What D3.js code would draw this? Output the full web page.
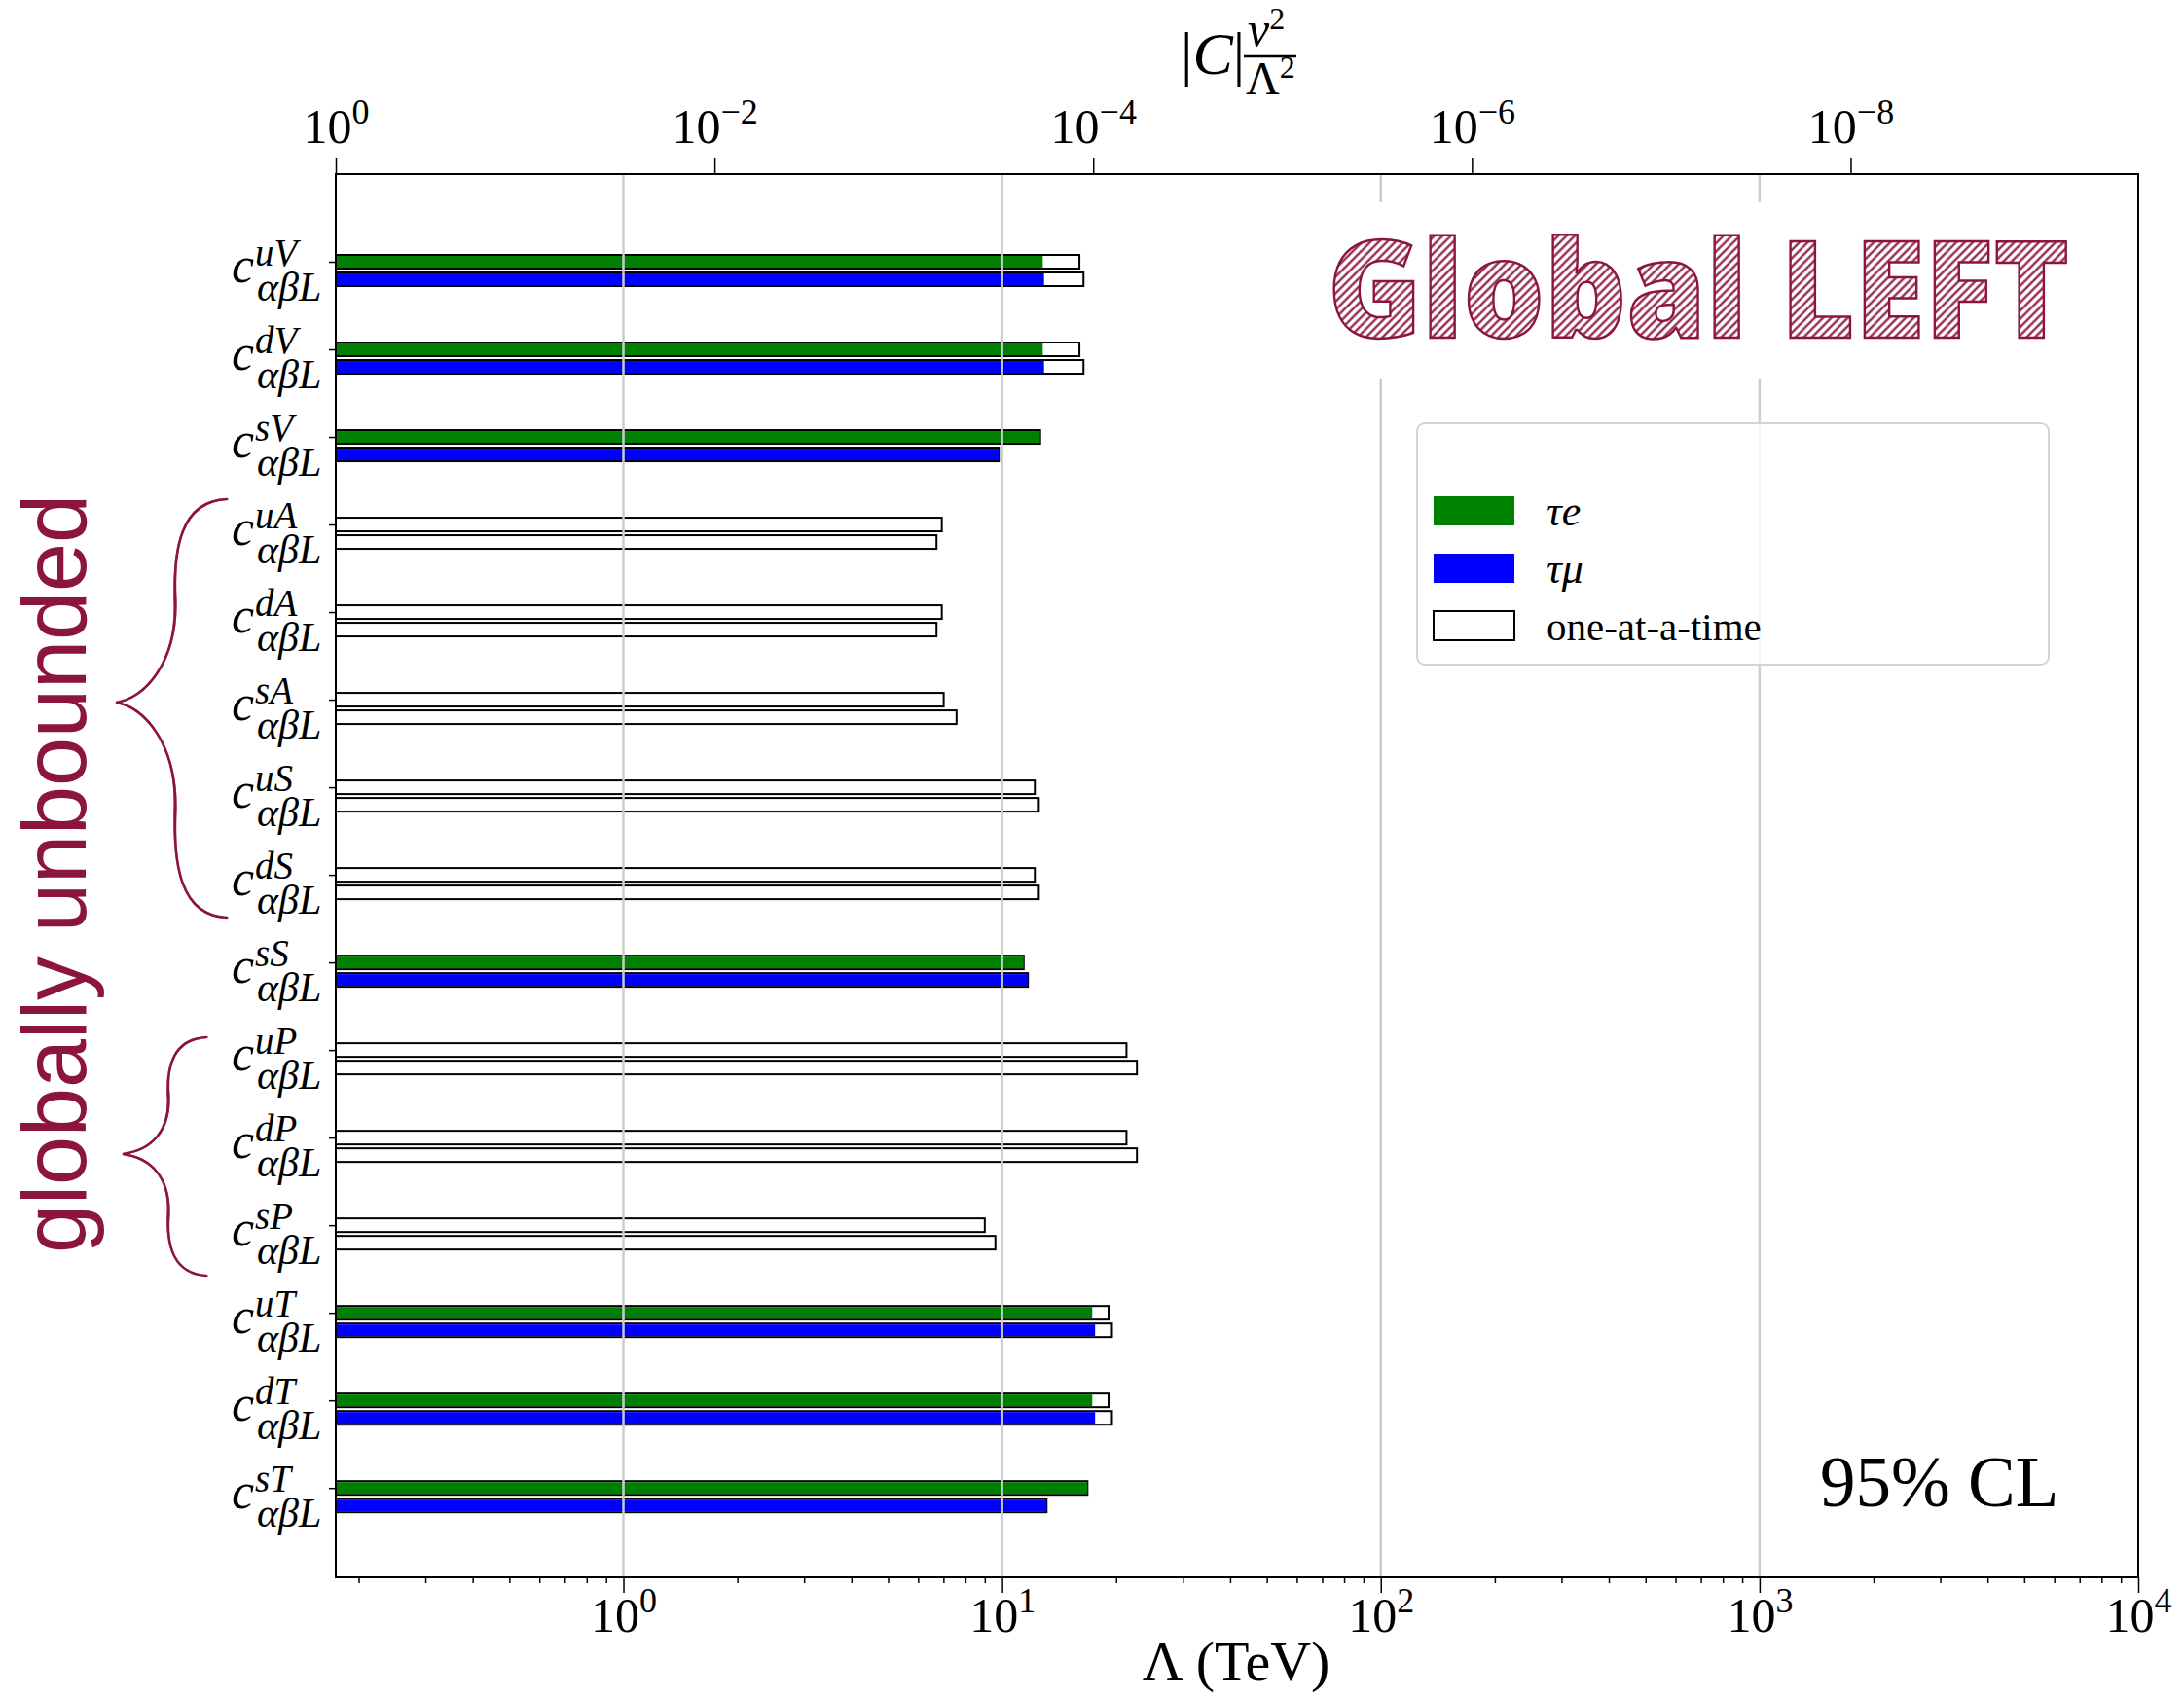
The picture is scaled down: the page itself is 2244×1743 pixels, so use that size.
<!DOCTYPE html>
<html>
<head>
<meta charset="utf-8">
<script src="https://cdn.jsdelivr.net/npm/d3@7"></script>
<style>
  html, body { margin: 0; padding: 0; background: #fff; }
  svg { display: block; }
</style>
</head>
<body>
<svg id="chart" width="2244" height="1743"></svg>
<script>
// ---------------- data ----------------
const categories = ["uV","dV","sV","uA","dA","sA","uS","dS","sS","uP","dP","sP","uT","dT","sT"];
const globalTauE  = [12.8, 12.8, 12.6, null, null, null, null, null, 11.4, null, null, null, 17.3, 17.3, 16.8];
const globalTauMu = [12.9, 12.9,  9.8, null, null, null, null, null, 11.7, null, null, null, 17.6, 17.6, 13.1];
const oneTauE     = [16.0, 16.0, 12.6, 6.93, 6.93, 7.01, 12.2, 12.2, 11.4, 21.3, 21.3, 9.0, 19.1, 19.1, 16.8];
const oneTauMu    = [16.4, 16.4,  9.8, 6.71, 6.71, 7.58, 12.5, 12.5, 11.7, 22.7, 22.7, 9.6, 19.5, 19.5, 13.1];
const vev = 0.174;                 // TeV
const lambdaMax = 1e4;
const bottomTicks = [1, 10, 100, 1000, 10000];
const bottomExps  = ["0", "1", "2", "3", "4"];
const topTicks = [1, 1e-2, 1e-4, 1e-6, 1e-8];
const topExps  = ["0", "\u22122", "\u22124", "\u22126", "\u22128"];
const legendItems = [
  {label: "\u03C4e", color: "#008000", italic: true},
  {label: "\u03C4\u03BC", color: "#0000ff", italic: true},
  {label: "one-at-a-time", color: "#ffffff", italic: false}
];

// ---------------- layout ----------------
const M = {left: 345, right: 2197, top: 179, bottom: 1621};
const serif = "'Liberation Serif','Times New Roman',serif";
const maroon = "#8c1540";
const svg = d3.select("#chart");

const x = d3.scaleLog().domain([vev, lambdaMax]).range([M.left, M.right]);
const xTop = d3.scaleLog().domain([1, Math.pow(vev / lambdaMax, 2)]).range([M.left, M.right]);
const y = d3.scaleLinear().domain([-1, 15.02]).range([M.top, M.bottom]);
const barOff = 0.2, barH = 14;

const defs = svg.append("defs");
const pat = defs.append("pattern").attr("id", "hatch").attr("patternUnits", "userSpaceOnUse")
  .attr("width", 6).attr("height", 6).attr("patternTransform", "rotate(45)");
pat.append("rect").attr("width", 6).attr("height", 6).attr("fill", "#fff");
pat.append("line").attr("x1", 1.5).attr("y1", 0).attr("x2", 1.5).attr("y2", 6)
  .attr("stroke", maroon).attr("stroke-width", 2.2);

// ---------------- bars ----------------
const gBars = svg.append("g");
function drawBars(vals, off, fill, outline) {
  categories.forEach((c, i) => {
    const v = vals[i];
    if (v == null) return;
    const cy = y(i + off);
    if (outline) {
      gBars.append("rect").attr("x", x(vev)).attr("y", cy - barH / 2)
        .attr("width", x(v) - x(vev)).attr("height", barH)
        .attr("fill", "#fff").attr("stroke", "#000").attr("stroke-width", 2);
    } else {
      gBars.append("rect").attr("x", x(vev)).attr("y", cy - barH / 2 + 1)
        .attr("width", x(v) - x(vev)).attr("height", barH - 2)
        .attr("fill", fill);
    }
  });
}
drawBars(oneTauE, 0, "#fff", true);
drawBars(oneTauMu, barOff, "#fff", true);
drawBars(globalTauE, 0, "#008000", false);
drawBars(globalTauMu, barOff, "#0000ff", false);

// ---------------- gridlines (on top of bars) ----------------
svg.append("g").selectAll("line").data(bottomTicks.slice(0, 4)).join("line")
  .attr("x1", d => x(d)).attr("x2", d => x(d))
  .attr("y1", M.top).attr("y2", M.bottom)
  .attr("stroke", "#cccccc").attr("stroke-width", 2.5);

// ---------------- title box "Global LEFT" ----------------
svg.append("rect").attr("x", 1340).attr("y", 208).attr("width", 820).attr("height", 182).attr("fill", "#fff");
svg.append("text").attr("x", 1364).attr("y", 347)
  .attr("font-family", "'Open Sans','Lato','DejaVu Sans',sans-serif")
  .attr("font-weight", 800).attr("font-size", 138)
  .attr("textLength", 762).attr("lengthAdjust", "spacingAndGlyphs")
  .attr("fill", "url(#hatch)").attr("stroke", maroon).attr("stroke-width", 2.5)
  .text("Global LEFT");

// ---------------- legend ----------------
const gLeg = svg.append("g");
gLeg.append("rect").attr("x", 1456).attr("y", 435).attr("width", 649).attr("height", 248)
  .attr("rx", 8).attr("fill", "#fff").attr("fill-opacity", 0.8)
  .attr("stroke", "#d4d4d4").attr("stroke-width", 2);
legendItems.forEach((d, i) => {
  const py = 510 + i * 59;
  gLeg.append("rect").attr("x", 1473).attr("y", py).attr("width", 83).attr("height", 30)
    .attr("fill", d.color).attr("stroke", d.color === "#ffffff" ? "#000" : "none").attr("stroke-width", 2);
  gLeg.append("text").attr("x", 1589).attr("y", py + 30)
    .attr("font-family", serif).attr("font-size", d.italic ? 44 : 41)
    .attr("font-style", d.italic ? "italic" : "normal").text(d.label);
});

// ---------------- axes ----------------
const axB = svg.append("g").attr("transform", `translate(0,${M.bottom})`)
  .call(d3.axisBottom(x).tickValues(bottomTicks).tickSize(16).tickSizeOuter(0).tickFormat(() => ""));
const minorVals = [];
for (let e = -1; e <= 3; e++) for (let k = 2; k <= 9; k++) {
  const v = k * Math.pow(10, e);
  if (v > vev && v < lambdaMax) minorVals.push(v);
}
const axBm = svg.append("g").attr("transform", `translate(0,${M.bottom})`)
  .call(d3.axisBottom(x).tickValues(minorVals).tickSize(6).tickSizeOuter(0).tickFormat(() => ""));
const axT = svg.append("g").attr("transform", `translate(0,${M.top})`)
  .call(d3.axisTop(xTop).tickValues(topTicks).tickSize(17).tickSizeOuter(0).tickFormat(() => ""));
const axL = svg.append("g").attr("transform", `translate(${M.left},0)`)
  .call(d3.axisLeft(y).tickValues(d3.range(categories.length)).tickSize(7).tickSizeOuter(0).tickFormat(() => ""));
[axB, axBm, axT, axL].forEach(a => {
  a.select(".domain").remove();
  a.selectAll(".tick line").attr("stroke", "#000").attr("stroke-width", 1.5);
});
axBm.selectAll(".tick text").remove();
axL.selectAll(".tick text").remove();

function expLabel(sel, exps, yPos) {
  sel.selectAll(".tick text").each(function(d, i) {
    const t = d3.select(this);
    t.text(null).attr("y", yPos).attr("dy", null)
      .attr("font-family", serif).attr("font-size", 50).attr("fill", "#000")
      .attr("text-anchor", "middle");
    t.append("tspan").text("10");
    t.append("tspan").attr("dy", -20).attr("font-size", 36).text(exps[i]);
  });
}
expLabel(axB, bottomExps, 56);
expLabel(axT, topExps, -32);

// spines
svg.append("rect").attr("x", M.left).attr("y", M.top)
  .attr("width", M.right - M.left).attr("height", M.bottom - M.top)
  .attr("fill", "none").attr("stroke", "#000").attr("stroke-width", 2);

// y labels  c^{q X}_{αβL}
const gLab = svg.append("g").attr("font-family", serif).attr("font-style", "italic");
categories.forEach((c, i) => {
  const cy = y(i);
  const t = gLab.append("text").attr("x", 238).attr("y", cy + 21).attr("font-size", 52);
  t.append("tspan").text("c");
  t.append("tspan").attr("x", 262).attr("y", cy + 4).attr("font-size", 39).text(c);
  t.append("tspan").attr("x", 264).attr("y", cy + 40).attr("font-size", 42).text("\u03B1\u03B2L");
});

// axis titles
svg.append("text").attr("x", 1270).attr("y", 1727).attr("text-anchor", "middle")
  .attr("font-family", serif).attr("font-size", 58).text("\u039B (TeV)");
const gTop = svg.append("g").attr("font-family", serif);
const tC = gTop.append("text").attr("x", 1213).attr("y", 76).attr("font-size", 62);
tC.append("tspan").text("|");
tC.append("tspan").attr("font-style", "italic").text("C");
tC.append("tspan").text("|");
gTop.append("line").attr("x1", 1278).attr("x2", 1332).attr("y1", 58).attr("y2", 58)
  .attr("stroke", "#000").attr("stroke-width", 2.5);
const tNum = gTop.append("text").attr("x", 1282).attr("y", 47).attr("font-size", 50);
tNum.append("tspan").attr("font-style", "italic").text("v");
tNum.append("tspan").attr("dy", -17).attr("font-size", 32).text("2");
const tDen = gTop.append("text").attr("x", 1280).attr("y", 97).attr("font-size", 48);
tDen.append("tspan").text("\u039B");
tDen.append("tspan").attr("dy", -17).attr("font-size", 32).text("2");

// 95% CL
svg.append("text").attr("x", 1870).attr("y", 1548).attr("font-family", serif)
  .attr("font-size", 73).text("95% CL");

// globally unbounded
svg.append("text").attr("transform", "translate(88,898) rotate(-90)")
  .attr("text-anchor", "middle").attr("font-family", "'Liberation Sans',Arial,sans-serif")
  .attr("font-size", 92).attr("textLength", 780).attr("lengthAdjust", "spacingAndGlyphs")
  .attr("fill", maroon).text("globally unbounded");

// braces
function bracePath(xEnd, xMid, xTip, yTop, yTip, yBot, j) {
  const p = d3.path();
  const h1 = yTip - yTop, h2 = yBot - yTip;
  p.moveTo(xEnd + j, yTop);
  p.bezierCurveTo(xMid + 5, yTop + 2 + j, xMid - 2, yTop + h1 * 0.25, xMid + j, yTop + h1 * 0.5);
  p.bezierCurveTo(xMid + 2, yTop + h1 * 0.8, xTip + 30, yTip - 4 + j, xTip, yTip);
  p.bezierCurveTo(xTip + 30, yTip + 4 + j, xMid + 2, yTip + h2 * 0.2, xMid + j, yTip + h2 * 0.5);
  p.bezierCurveTo(xMid - 2, yBot - h2 * 0.25, xMid + 5, yBot - 2 + j, xEnd + j, yBot);
  return p.toString();
}
const gBr = svg.append("g").attr("fill", "none").attr("stroke", maroon).attr("stroke-linecap", "round");
[[233, 180, 119, 513, 722, 943], [212, 173, 126, 1066, 1186, 1311]].forEach(b => {
  [-1.2, 0, 1.2].forEach((j, k) => {
    gBr.append("path").attr("d", bracePath(b[0], b[1], b[2], b[3], b[4], b[5], j))
      .attr("stroke-width", k === 1 ? 2.6 : 1.3).attr("stroke-opacity", k === 1 ? 1 : 0.7);
  });
});
</script>
</body>
</html>
